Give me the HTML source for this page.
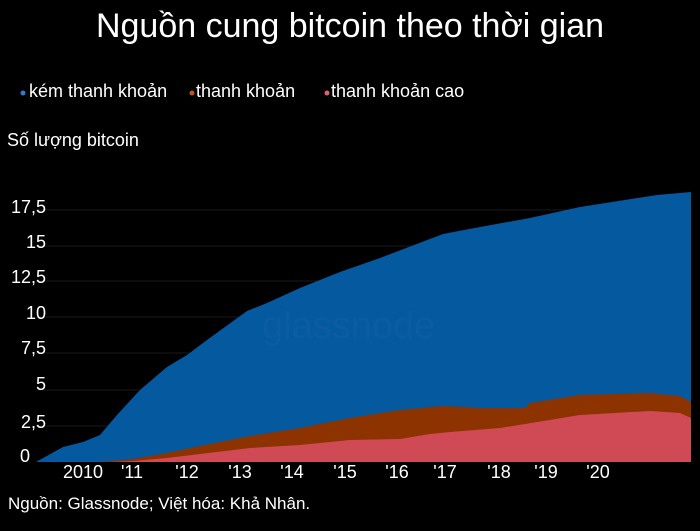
<!DOCTYPE html>
<html><head><meta charset="utf-8"><style>
body{margin:0;background:#000;width:700px;height:526px;overflow:hidden;font-family:"Liberation Sans",sans-serif;color:#fff}
</style></head><body>
<svg width="700" height="526" xmlns="http://www.w3.org/2000/svg" font-family="Liberation Sans, sans-serif">
<rect width="700" height="526" fill="#000"/>
<text x="350" y="37" font-size="34" fill="#fff" text-anchor="middle">Nguồn cung bitcoin theo thời gian</text>
<circle cx="23" cy="93" r="2.5" fill="#2a7fd4"/><text x="29" y="97" font-size="18" fill="#fff">kém thanh khoản</text>
<circle cx="192" cy="93" r="2.5" fill="#c0541a"/><text x="196" y="97" font-size="18" fill="#fff">thanh khoản</text>
<circle cx="327" cy="93" r="2.5" fill="#e06070"/><text x="331" y="97" font-size="18" fill="#fff">thanh khoản cao</text>
<text x="7" y="146" font-size="18" fill="#fff">Số lượng bitcoin</text>
<g stroke="#1a1a1a" stroke-width="1">
<line x1="36" x2="690" y1="210" y2="210"/><line x1="36" x2="690" y1="246" y2="246"/><line x1="36" x2="690" y1="281" y2="281"/><line x1="36" x2="690" y1="317" y2="317"/><line x1="36" x2="690" y1="353" y2="353"/><line x1="36" x2="690" y1="390" y2="390"/><line x1="36" x2="690" y1="426" y2="426"/>
</g>
<g font-size="18" fill="#fff" text-anchor="end">
<text x="46" y="213">17,5</text><text x="46" y="248">15</text><text x="46" y="283">12,5</text><text x="46" y="319">10</text><text x="46" y="354">7,5</text><text x="46" y="390">5</text><text x="46" y="428">2,5</text><text x="30" y="462">0</text>
</g>
<polygon fill="#04599f" points="36,462 63,447 83,442 100,435 117,415 140,390 167,367 187,355 207,340 247,311 267,303 300,288 340,272 380,258 443,234 480,227 530,218 580,207 657,195 691,192 691,462"/>
<polygon fill="#8c3300" points="36,462 100,462 133,459 167,453 200,446 250,436 300,428 350,418 400,410 443,406 480,408 525,408 530,403 580,395 650,393 680,396 691,402 691,462"/>
<polygon fill="#cf4a55" points="36,462 110,462 133,461 167,458 200,454 250,448 300,445 350,440 400,439 430,434 450,432 500,428 525,424 580,415 650,411 680,413 691,418 691,462"/>
<text x="262" y="338" font-size="38" fill="#1a64a8" opacity="0.35">glassnode</text>
<g font-size="18" fill="#fff" text-anchor="middle">
<text x="83" y="478">2010</text><text x="132" y="478">'11</text><text x="187" y="478">'12</text><text x="240" y="478">'13</text><text x="292" y="478">'14</text><text x="345" y="478">'15</text><text x="397" y="478">'16</text><text x="445" y="478">'17</text><text x="499" y="478">'18</text><text x="546" y="478">'19</text><text x="598" y="478">'20</text>
</g>
<text x="8" y="509" font-size="17" fill="#fff">Nguồn: Glassnode; Việt hóa: Khả Nhân.</text>
</svg>
</body></html>
